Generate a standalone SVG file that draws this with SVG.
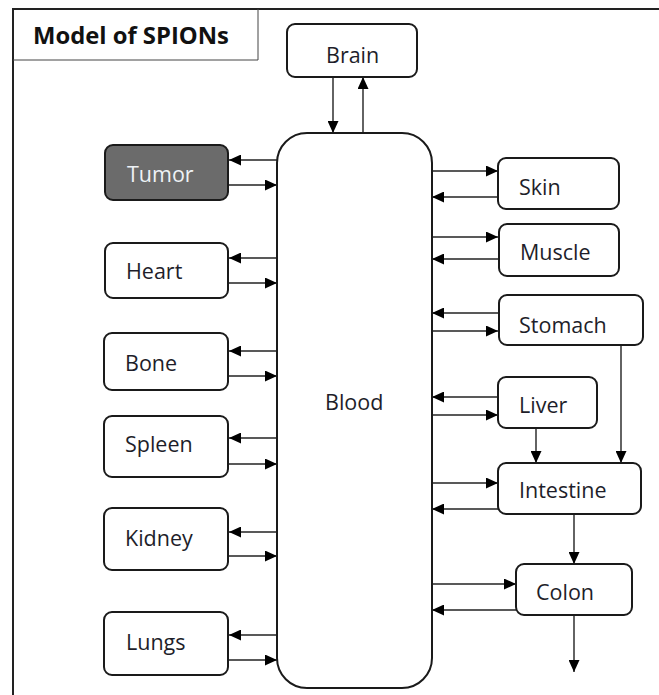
<svg xmlns="http://www.w3.org/2000/svg" width="659" height="695" viewBox="0 0 659 695">
<style>
.box{fill:#ffffff;stroke:#1a1a1a;stroke-width:2}
.lbl{font-family:"Open Sans","Noto Sans",sans-serif;font-size:21.5px;fill:#1e1e2a}
.c{stroke:#222;stroke-width:1.4;fill:none;marker-end:url(#ah)}
.frame{stroke:#222;stroke-width:2;fill:none}
</style>
<defs>
<marker id="ah" viewBox="0 0 12 11" refX="12" refY="5.5" markerWidth="12" markerHeight="11" markerUnits="userSpaceOnUse" orient="auto">
<path d="M0,0 L12,5.5 L0,11 z" fill="#000"/>
</marker>
</defs>
<rect width="659" height="695" fill="#ffffff"/>
<g id="frame">
<path class="frame" d="M13,695 L13,9 L659,9"/>
<path d="M13,60 L258,60 L258,9" fill="none" stroke="#444" stroke-width="1"/>
<text x="33" y="44" font-family="'Open Sans','Noto Sans',sans-serif" font-size="23.8" font-weight="bold" fill="#111">Model of SPIONs</text>
</g>
<g id="connectors">
<line class="c" x1="333" y1="77" x2="333" y2="133"/>
<line class="c" x1="363" y1="133" x2="363" y2="77"/>
<line class="c" x1="277" y1="160" x2="229" y2="160"/>
<line class="c" x1="229" y1="185" x2="277" y2="185"/>
<line class="c" x1="277" y1="258" x2="229" y2="258"/>
<line class="c" x1="229" y1="283" x2="277" y2="283"/>
<line class="c" x1="277" y1="351" x2="229" y2="351"/>
<line class="c" x1="229" y1="376" x2="277" y2="376"/>
<line class="c" x1="277" y1="438" x2="229" y2="438"/>
<line class="c" x1="229" y1="464" x2="277" y2="464"/>
<line class="c" x1="277" y1="532" x2="229" y2="532"/>
<line class="c" x1="229" y1="556" x2="277" y2="556"/>
<line class="c" x1="277" y1="635" x2="229" y2="635"/>
<line class="c" x1="229" y1="660" x2="277" y2="660"/>
<line class="c" x1="432" y1="171" x2="498" y2="171"/>
<line class="c" x1="498" y1="197" x2="432" y2="197"/>
<line class="c" x1="432" y1="237" x2="498" y2="237"/>
<line class="c" x1="498" y1="259" x2="432" y2="259"/>
<line class="c" x1="498" y1="313" x2="432" y2="313"/>
<line class="c" x1="432" y1="331" x2="498" y2="331"/>
<line class="c" x1="498" y1="397" x2="432" y2="397"/>
<line class="c" x1="432" y1="415" x2="498" y2="415"/>
<line class="c" x1="432" y1="483" x2="498" y2="483"/>
<line class="c" x1="498" y1="509" x2="432" y2="509"/>
<line class="c" x1="432" y1="584" x2="516" y2="584"/>
<line class="c" x1="516" y1="610" x2="432" y2="610"/>
<line class="c" x1="621" y1="345" x2="621" y2="463"/>
<line class="c" x1="536" y1="428" x2="536" y2="463"/>
<line class="c" x1="574" y1="514" x2="574" y2="564"/>
<line class="c" x1="574" y1="615" x2="574" y2="672"/>
</g>
<g id="blood">
<rect class="box" x="277" y="133" width="155" height="555" rx="30"/>
<text class="lbl" x="325" y="410">Blood</text>
</g>
<g id="brain">
<rect class="box" x="287" y="24" width="130" height="53" rx="8"/>
<text class="lbl" x="326" y="63">Brain</text>
</g>
<g id="tumor">
<rect x="105" y="145" width="123" height="55" rx="8" fill="#6b6b6b" stroke="#1a1a1a" stroke-width="2"/>
<text class="lbl" x="127" y="182" style="fill:#eef2f6">Tumor</text>
</g>
<g id="heart">
<rect class="box" x="105" y="243" width="123" height="55" rx="8"/>
<text class="lbl" x="126" y="279">Heart</text>
</g>
<g id="bone">
<rect class="box" x="104" y="333" width="124" height="57" rx="8"/>
<text class="lbl" x="125" y="371">Bone</text>
</g>
<g id="spleen">
<rect class="box" x="104" y="416" width="124" height="61" rx="8"/>
<text class="lbl" x="125" y="452">Spleen</text>
</g>
<g id="kidney">
<rect class="box" x="104" y="508" width="124" height="62" rx="8"/>
<text class="lbl" x="125" y="546">Kidney</text>
</g>
<g id="lungs">
<rect class="box" x="104" y="612" width="124" height="63" rx="8"/>
<text class="lbl" x="126" y="650">Lungs</text>
</g>
<g id="skin">
<rect class="box" x="498" y="158" width="121" height="51" rx="8"/>
<text class="lbl" x="519" y="195">Skin</text>
</g>
<g id="muscle">
<rect class="box" x="499" y="224" width="120" height="52" rx="8"/>
<text class="lbl" x="520" y="260">Muscle</text>
</g>
<g id="stomach">
<rect class="box" x="499" y="295" width="144" height="50" rx="8"/>
<text class="lbl" x="519" y="333">Stomach</text>
</g>
<g id="liver">
<rect class="box" x="498" y="377" width="99" height="51" rx="8"/>
<text class="lbl" x="519" y="413">Liver</text>
</g>
<g id="intestine">
<rect class="box" x="498" y="463" width="143" height="51" rx="8"/>
<text class="lbl" x="519" y="498">Intestine</text>
</g>
<g id="colon">
<rect class="box" x="516" y="564" width="116" height="51" rx="8"/>
<text class="lbl" x="536" y="600">Colon</text>
</g>
</svg>
